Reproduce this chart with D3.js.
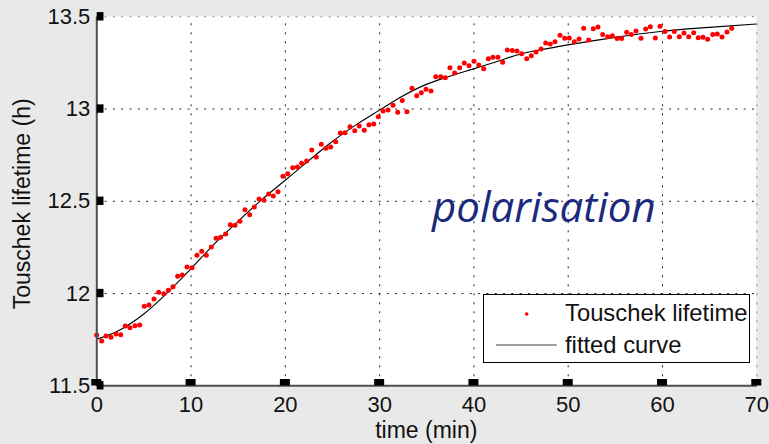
<!DOCTYPE html>
<html>
<head>
<meta charset="utf-8">
<script src="https://cdn.jsdelivr.net/npm/d3@7"></script>
<style>
  body { margin: 0; background: #e9e9e9; }
  svg { display: block; font-family: 'Liberation Sans', Arial, sans-serif; }
</style>
</head>
<body>
<div id="chart"></div>
<script>

const times = [
  0.04, 0.57, 1.03, 1.56, 2.09, 2.59, 3.08, 3.57, 4.10, 4.60,
  5.09, 5.59, 6.12, 6.62, 7.15, 7.64, 8.13, 8.63, 9.12, 9.62,
  10.15, 10.68, 11.18, 11.67, 12.20, 12.70, 13.19, 13.72, 14.21, 14.71,
  15.24, 15.77, 16.27, 16.76, 17.26, 17.79, 18.28, 18.77, 19.27, 19.80,
  20.30, 20.83, 21.32, 21.78, 22.31, 22.85, 23.33, 23.86, 24.36, 24.86,
  25.39, 25.88, 26.38, 26.91, 27.41, 27.89, 28.42, 28.92, 29.42, 29.91,
  30.41, 30.94, 31.47, 31.97, 32.45, 32.95, 33.48, 33.98, 34.47, 34.97,
  35.50, 36.00, 36.53, 37.02, 37.51, 38.01, 38.54, 39.03, 39.53, 40.06,
  40.56, 41.09, 41.58, 42.07, 42.60, 43.10, 43.59, 44.12, 44.62, 45.12,
  45.65, 46.14, 46.64, 47.17, 47.66, 48.15, 48.65, 49.18, 49.68, 50.17,
  50.70, 51.20, 51.69, 52.22, 52.71, 53.21, 53.71, 54.24, 54.73, 55.23,
  55.72, 56.25, 56.74, 57.24, 57.77, 58.27, 58.76, 59.29, 59.79, 60.32,
  60.81, 61.30, 61.83, 62.33, 62.83, 63.36, 63.84, 64.35, 64.84, 65.38,
  65.86, 66.36, 66.89, 67.39,
];

const lifetimes = [
  11.773, 11.740, 11.767, 11.760, 11.778, 11.774, 11.821, 11.812, 11.823, 11.827,
  11.928, 11.935, 11.968, 12.004, 11.996, 12.015, 12.034, 12.091, 12.098, 12.141,
  12.137, 12.205, 12.226, 12.205, 12.250, 12.297, 12.302, 12.320, 12.370, 12.367,
  12.389, 12.452, 12.425, 12.466, 12.510, 12.503, 12.537, 12.526, 12.549, 12.633,
  12.647, 12.679, 12.683, 12.703, 12.716, 12.775, 12.737, 12.806, 12.785, 12.792,
  12.820, 12.867, 12.869, 12.902, 12.880, 12.905, 12.882, 12.912, 12.916, 12.956,
  12.987, 12.992, 13.018, 12.980, 13.043, 12.983, 13.110, 13.070, 13.086, 13.104,
  13.095, 13.173, 13.173, 13.167, 13.221, 13.193, 13.221, 13.247, 13.232, 13.256,
  13.236, 13.216, 13.270, 13.278, 13.278, 13.251, 13.317, 13.314, 13.312, 13.297,
  13.270, 13.286, 13.307, 13.323, 13.355, 13.350, 13.362, 13.397, 13.381, 13.382,
  13.362, 13.377, 13.435, 13.372, 13.433, 13.442, 13.402, 13.389, 13.395, 13.379,
  13.379, 13.413, 13.402, 13.420, 13.381, 13.431, 13.444, 13.382, 13.446, 13.417,
  13.388, 13.417, 13.389, 13.409, 13.389, 13.411, 13.384, 13.386, 13.375, 13.402,
  13.404, 13.388, 13.415, 13.435,
];

// Fitted curve

const fitTimes = [0, 2.5, 5, 7.5, 10, 12.5, 15, 17.5, 20, 22.5, 25, 27.5, 30,
  32.5, 35, 37.5, 40, 42.5, 45, 47.5, 50, 55, 60, 65, 70];
const fitValues = [11.749, 11.800, 11.885, 12.000, 12.130, 12.265, 12.387, 12.504,
  12.610, 12.716, 12.820, 12.910, 12.990, 13.068, 13.131, 13.175, 13.215, 13.255,
  13.296, 13.322, 13.345, 13.386, 13.419, 13.440, 13.458];

// Ticks

const xTicks = [0, 10, 20, 30, 40, 50, 60, 70];
const yTicks = [11.5, 12, 12.5, 13, 13.5];
const yTickLabels = ['11.5', '12', '12.5', '13', '13.5'];

const width = 769;
const height = 444;

const margin = {
  top: 16.3,
  right: 12.7,
  bottom: 58.7,
  left: 96.3,
};

const chartWidth = width - margin.left - margin.right;
const chartHeight = height - margin.top - margin.bottom;

const svg = d3.select('#chart').append('svg')
  .attr('width', width)
  .attr('height', height);

svg.append('rect')
  .attr('width', width)
  .attr('height', height)
  .attr('fill', '#e9e9e9');

const chartGroup = svg.append('g')
  .attr('transform', `translate(${margin.left}, ${margin.top})`);

const xScale = d3.scaleLinear().domain([0, 70]).range([0, chartWidth]);
const yScale = d3.scaleLinear().domain([11.5, 13.5]).range([chartHeight, 0]);

// White plot area

chartGroup.append('rect')
  .attr('width', chartWidth)
  .attr('height', chartHeight)
  .attr('fill', '#fff');

// Dotted grid (the last lines double as the top / right border)

const xGrid = chartGroup.append('g')
  .attr('transform', `translate(0, ${chartHeight})`)
  .call(d3.axisBottom(xScale).tickValues(xTicks).tickSize(-chartHeight).tickFormat(''));
xGrid.select('.domain').remove();
xGrid.selectAll('line')
  .attr('stroke', d => (d === 70 ? '#8a8a8a' : '#222'))
  .attr('stroke-dasharray', '2,7');

const yGrid = chartGroup.append('g')
  .call(d3.axisLeft(yScale).tickValues(yTicks).tickSize(-chartWidth).tickFormat(''));
yGrid.select('.domain').remove();
yGrid.selectAll('line')
  .attr('stroke', d => (d === 13.5 ? '#8a8a8a' : '#222'))
  .attr('stroke-dasharray', '2,6.3');

// Fitted curve

const line = d3.line()
  .x((d, i) => xScale(fitTimes[i]))
  .y(d => yScale(d))
  .curve(d3.curveMonotoneX);

chartGroup.append('path')
  .datum(fitValues)
  .attr('d', line)
  .attr('fill', 'none')
  .attr('stroke', '#000')
  .attr('stroke-width', 1.1);

// Measured points

chartGroup.append('g')
  .selectAll('circle')
  .data(lifetimes)
  .join('circle')
  .attr('cx', (d, i) => xScale(times[i]))
  .attr('cy', d => yScale(d))
  .attr('r', 2.5)
  .attr('fill', '#ff0000');

// Axes

const xAxisGroup = chartGroup.append('g')
  .attr('transform', `translate(0, ${chartHeight})`)
  .call(d3.axisBottom(xScale).tickValues(xTicks).tickSize(0).tickPadding(11.5));

const yAxisGroup = chartGroup.append('g')
  .call(d3.axisLeft(yScale).tickValues(yTicks).tickSize(0).tickPadding(6)
    .tickFormat((d, i) => yTickLabels[i]));

[xAxisGroup, yAxisGroup].forEach(g => {
  g.select('.domain').attr('stroke', '#505050').attr('stroke-width', 2);
  g.selectAll('text')
    .attr('font-size', 22)
    .attr('font-family', "'Liberation Sans', Arial, sans-serif")
    .attr('fill', '#111');
});

// Square tick marks

chartGroup.append('g')
  .selectAll('rect')
  .data(yTicks)
  .join('rect')
  .attr('x', 0.4)
  .attr('y', d => yScale(d) - 4.2)
  .attr('width', 6.8)
  .attr('height', 8.4)
  .attr('fill', '#000');

chartGroup.append('g')
  .selectAll('rect')
  .data(xTicks)
  .join('rect')
  .attr('x', d => xScale(d) - 5)
  .attr('y', chartHeight - 6.3)
  .attr('width', 10)
  .attr('height', 6.5)
  .attr('fill', '#000');

// Axis labels

svg.append('text')
  .attr('x', margin.left + chartWidth / 2)
  .attr('y', 438)
  .attr('text-anchor', 'middle')
  .attr('font-size', 23)
  .attr('fill', '#111')
  .text('time (min)');

svg.append('text')
  .attr('transform', `translate(30, ${margin.top + chartHeight / 2 + 3}) rotate(-90)`)
  .attr('text-anchor', 'middle')
  .attr('font-size', 23)
  .attr('fill', '#111')
  .text('Touschek lifetime (h)');

// Annotation

svg.append('text')
  .attr('x', 432)
  .attr('y', 222)
  .attr('font-family', "'Open Sans', sans-serif")
  .attr('font-style', 'italic')
  .attr('font-size', 42)
  .attr('fill', '#1b2a7d')
  .text('polarisation');

// Legend

const legend = svg.append('g');

legend.append('rect')
  .attr('x', 483.5)
  .attr('y', 294.5)
  .attr('width', 266)
  .attr('height', 68)
  .attr('fill', '#fff')
  .attr('stroke', '#000')
  .attr('stroke-width', 1);

legend.append('circle')
  .attr('cx', 526.7)
  .attr('cy', 314)
  .attr('r', 1.8)
  .attr('fill', '#ff0000');

legend.append('line')
  .attr('x1', 496)
  .attr('x2', 556.7)
  .attr('y1', 345)
  .attr('y2', 345)
  .attr('stroke', '#444')
  .attr('stroke-width', 1);

legend.selectAll('text')
  .data(['Touschek lifetime', 'fitted curve'])
  .join('text')
  .attr('x', 565)
  .attr('y', (d, i) => (i === 0 ? 321 : 353))
  .attr('font-size', 23.8)
  .attr('fill', '#111')
  .text(d => d);
</script>
</body>
</html>
